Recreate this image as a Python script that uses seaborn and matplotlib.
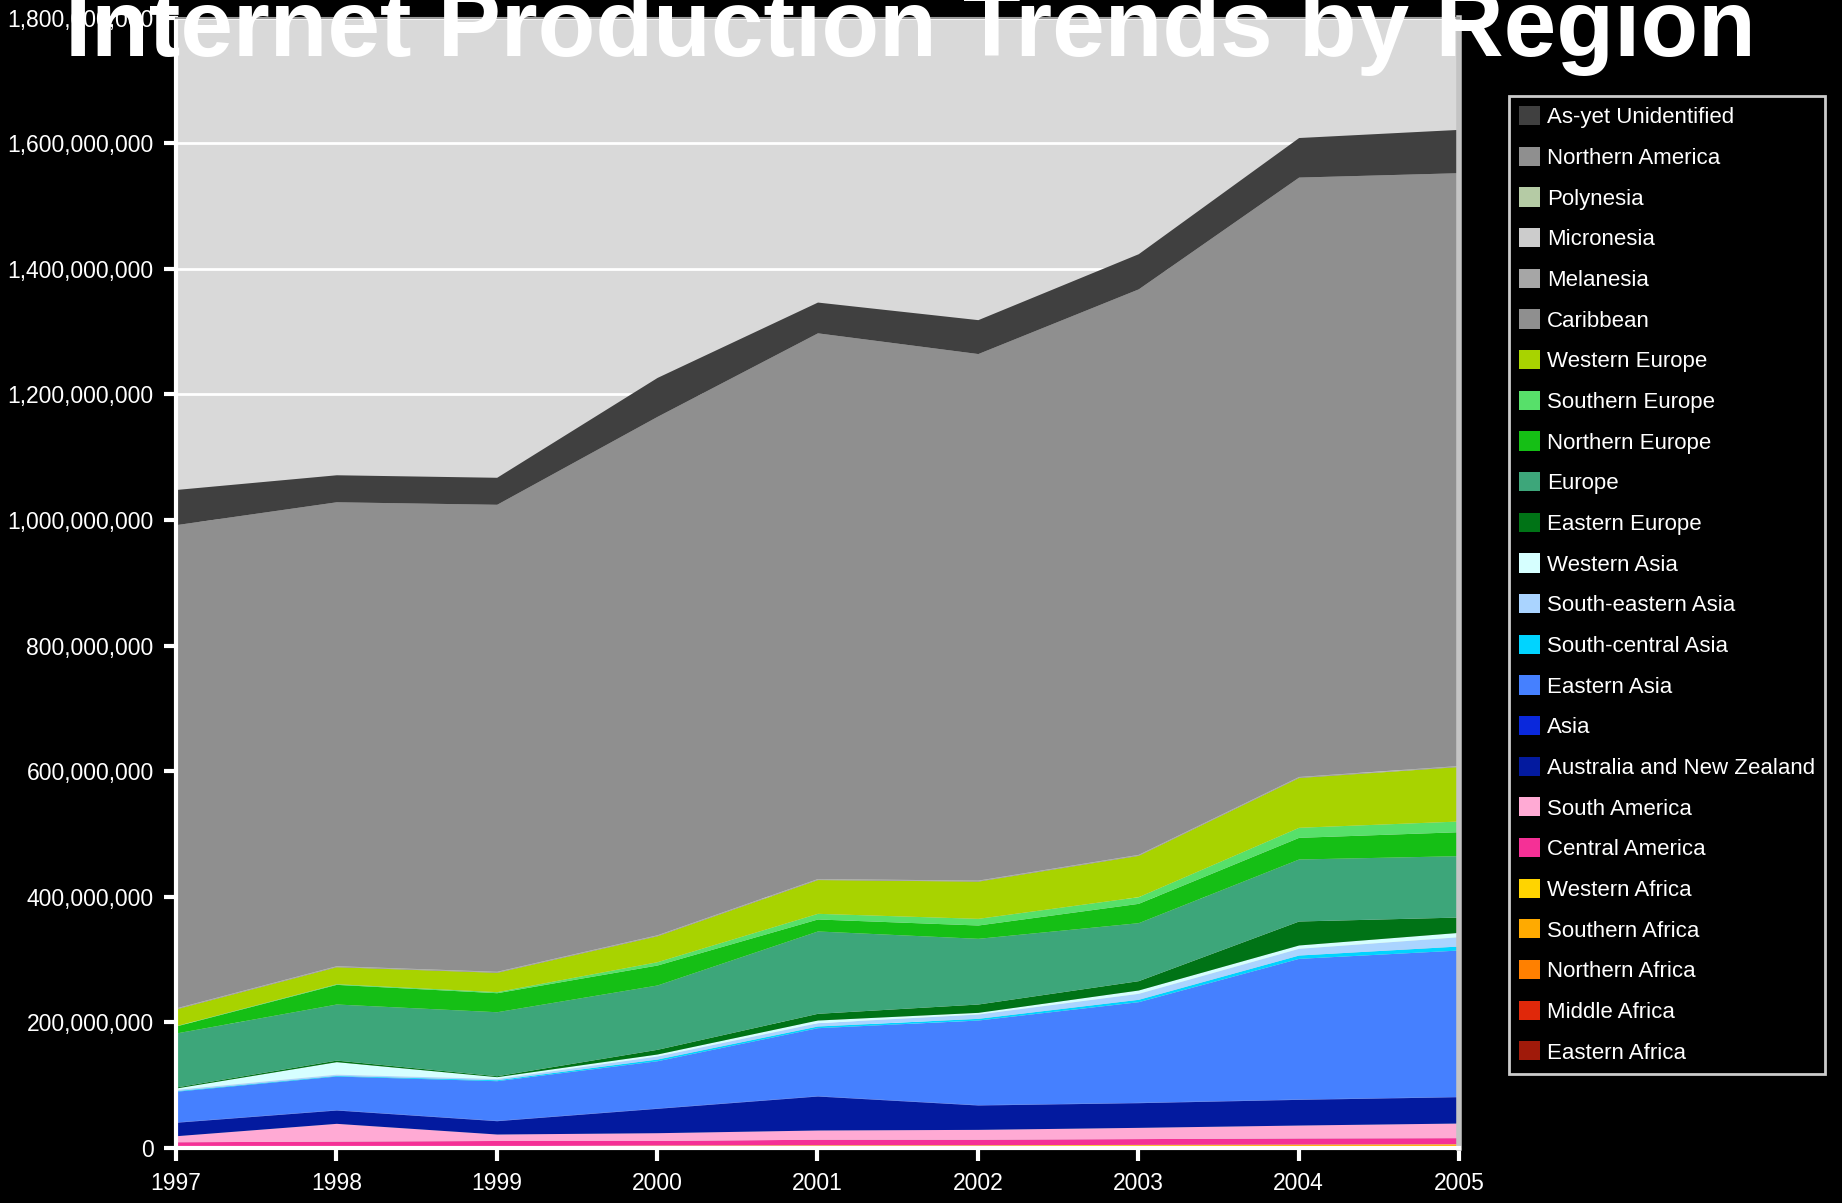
import matplotlib
matplotlib.use("Agg")
import matplotlib.pyplot as plt
import matplotlib.patches as mpatches
from matplotlib.ticker import FuncFormatter
import seaborn as sns

# ---------------- data (bottom of stack first) ----------------
years = [1997, 1998, 1999, 2000, 2001, 2002, 2003, 2004, 2005]

eastern_africa   = [0.3e6, 0.3e6, 0.4e6, 0.5e6, 0.5e6, 0.5e6, 0.6e6, 0.7e6, 0.8e6]
middle_africa    = [0.2e6, 0.2e6, 0.2e6, 0.2e6, 0.2e6, 0.2e6, 0.2e6, 0.2e6, 0.2e6]
northern_africa  = [1.0e6, 1.0e6, 1.2e6, 1.5e6, 1.8e6, 1.8e6, 2.0e6, 2.2e6, 2.4e6]
southern_africa  = [1.5e6, 1.5e6, 1.6e6, 2.0e6, 2.2e6, 2.2e6, 2.4e6, 2.5e6, 2.6e6]
western_africa   = [0.3e6, 0.3e6, 0.4e6, 0.5e6, 0.5e6, 0.5e6, 0.6e6, 0.7e6, 0.8e6]
central_america  = [6.7e6, 7.7e6, 8.2e6, 7.3e6, 8.8e6, 8.8e6, 9.2e6, 9.7e6, 9.7e6]
south_america    = [9.6e6, 28.3e6, 10.3e6, 12.4e6, 14.7e6, 15.7e6, 17.9e6, 20.6e6, 23.3e6]
australia_nz     = [21.4e6, 21.2e6, 21.2e6, 38.8e6, 54.1e6, 38.8e6, 39.3e6, 40.9e6, 41.9e6]
asia             = [0.5e6, 0.5e6, 0.5e6, 0.5e6, 0.5e6, 0.5e6, 0.5e6, 0.5e6, 0.5e6]
eastern_asia     = [48.9e6, 53.6e6, 63.2e6, 75.3e6, 108.3e6, 134.8e6, 160.3e6, 224.0e6, 233.1e6]
south_central_asia = [1.0e6, 1.0e6, 1.5e6, 2.7e6, 2.7e6, 2.7e6, 3.8e6, 5.3e6, 6.4e6]
south_eastern_asia = [2.0e6, 2.0e6, 2.0e6, 4.8e6, 5.3e6, 6.9e6, 9.5e6, 10.7e6, 14.8e6]
western_asia     = [2.2e6, 19.9e6, 2.9e6, 3.2e6, 4.2e6, 2.6e6, 5.3e6, 5.3e6, 6.9e6]
eastern_europe   = [1.6e6, 2.5e6, 1.5e6, 7.5e6, 10.7e6, 13.3e6, 14.9e6, 38.2e6, 24.4e6]
europe           = [86.0e6, 89.3e6, 101.9e6, 102.4e6, 131.1e6, 104.6e6, 92.3e6, 98.7e6, 97.7e6]
northern_europe  = [11.2e6, 31.3e6, 30.3e6, 31.8e6, 19.1e6, 21.2e6, 30.8e6, 34.5e6, 38.2e6]
southern_europe  = [0.5e6, 1.0e6, 1.7e6, 5.3e6, 9.0e6, 10.6e6, 10.6e6, 16.0e6, 17.0e6]
western_europe   = [26.7e6, 27.1e6, 30.8e6, 41.3e6, 53.8e6, 59.3e6, 65.8e6, 79.3e6, 86.8e6]
caribbean        = [1.0e6, 1.0e6, 1.0e6, 1.0e6, 1.0e6, 1.0e6, 1.0e6, 1.0e6, 1.0e6]
melanesia        = [0.3e6, 0.3e6, 0.3e6, 0.3e6, 0.3e6, 0.3e6, 0.3e6, 0.3e6, 0.3e6]
micronesia       = [0.1e6, 0.1e6, 0.1e6, 0.1e6, 0.1e6, 0.1e6, 0.1e6, 0.1e6, 0.1e6]
polynesia        = [0.2e6, 0.2e6, 0.2e6, 0.2e6, 0.2e6, 0.2e6, 0.2e6, 0.2e6, 0.2e6]
northern_america = [769.4e6, 738.7e6, 743.6e6, 825.4e6, 868.9e6, 838.4e6, 900.4e6, 954.4e6, 943.9e6]
as_yet_unidentified = [56e6, 43e6, 43e6, 62e6, 49e6, 54e6, 56e6, 63e6, 69e6]

series_names = [
    "Eastern Africa", "Middle Africa", "Northern Africa", "Southern Africa",
    "Western Africa", "Central America", "South America",
    "Australia and New Zealand", "Asia", "Eastern Asia", "South-central Asia",
    "South-eastern Asia", "Western Asia", "Eastern Europe", "Europe",
    "Northern Europe", "Southern Europe", "Western Europe", "Caribbean",
    "Melanesia", "Micronesia", "Polynesia", "Northern America",
    "As-yet Unidentified",
]
series_values = [
    eastern_africa, middle_africa, northern_africa, southern_africa,
    western_africa, central_america, south_america, australia_nz, asia,
    eastern_asia, south_central_asia, south_eastern_asia, western_asia,
    eastern_europe, europe, northern_europe, southern_europe, western_europe,
    caribbean, melanesia, micronesia, polynesia, northern_america,
    as_yet_unidentified,
]
series_colors = [
    "#a01a0a", "#e0280a", "#ff8000", "#ffaa00", "#ffd400", "#f53096",
    "#ffaad4", "#031a9f", "#0a28dc", "#4580ff", "#00d4ff", "#aad4ff",
    "#d6ffff", "#007316", "#3da67a", "#15bf15", "#57e06a", "#a8d300",
    "#8f8f8f", "#a6a6a6", "#cccccc", "#b5cba5", "#8f8f8f", "#404040",
]

title_text = "Internet Production Trends by Region"

# ---------------- style ----------------
sns.set_theme(style="dark")
plt.rcParams["font.family"] = ["Liberation Sans", "DejaVu Sans"]
plt.rcParams["text.color"] = "white"

fig = plt.figure(figsize=(18.42, 12.03), dpi=100, facecolor="black")
ax = fig.add_axes([0.0955, 0.0457, 0.6966, 0.9397])
ax.set_facecolor("#d9d9d9")

ax.stackplot(years, *series_values, colors=series_colors, linewidth=0,
             labels=series_names, zorder=2)

ax.set_xlim(1997, 2005)
ax.set_ylim(0, 1.8e9)
ax.set_xticks(years)
ax.set_yticks([i * 200e6 for i in range(10)])
ax.yaxis.set_major_formatter(FuncFormatter(lambda v, p: f"{v:,.0f}"))

ax.grid(axis="y", color="white", linewidth=2, zorder=1)
ax.grid(axis="x", visible=False)
ax.set_axisbelow(True)

ax.tick_params(axis="both", colors="white", labelcolor="white",
               direction="out", length=9, width=3, labelsize=16.5)
ax.tick_params(axis="x", pad=8)
ax.tick_params(axis="y", pad=7)
ax.tick_params(left=True, bottom=True)

for side in ["left", "bottom"]:
    ax.spines[side].set_color("white")
    ax.spines[side].set_linewidth(3)
    ax.spines[side].set_visible(True)
ax.spines["right"].set_color("#c4c4c4")
ax.spines["right"].set_linewidth(4)
ax.spines["top"].set_color("#9a9a9a")
ax.spines["top"].set_linewidth(1.5)

# legend (reverse order of stack)
handles = [mpatches.Patch(facecolor=c, edgecolor="none", label=n)
           for n, c in zip(series_names, series_colors)][::-1]
leg = fig.legend(handles=handles, loc="upper left",
                 bbox_to_anchor=(1509 / 1842, 1 - 96 / 1203),
                 fontsize=16, frameon=True, fancybox=False,
                 facecolor="black", edgecolor="white",
                 handlelength=0.95, handleheight=0.95, handletextpad=0.3,
                 labelspacing=0.83, borderpad=0.45, borderaxespad=0)
leg.get_frame().set_linewidth(2)
for t in leg.get_texts():
    t.set_color("white")

fig.text(0.494, 1 - 56 / 1203, title_text, ha="center", va="baseline",
         fontsize=68, fontweight="bold", color="white")

fig.savefig("out.png", dpi=100, facecolor="black")
